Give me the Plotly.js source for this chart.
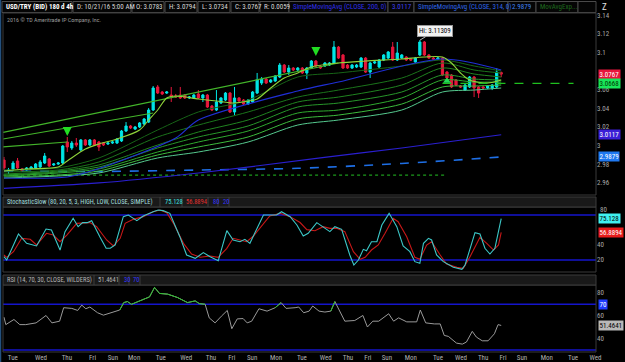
<!DOCTYPE html>
<html><head><meta charset="utf-8">
<script src="https://cdn.plot.ly/plotly-3.0.1.min.js"></script>
<style>html,body{margin:0;padding:0;background:#000;}#chart{width:625px;height:362px;}</style>
</head><body><div id="chart"></div>
<script>
// ---------------- DATA ----------------
const candleOpen = [
2.9846,2.9728,2.9750,2.9836,2.9750,2.9739,2.9750,2.9761,2.9771,2.9814,
2.9857,2.9793,2.9803,2.9814,3.0039,2.9975,3.0028,2.9954,3.0061,3.0007,
3.0061,3.0039,3.0028,3.0018,3.0028,3.0028,3.0050,3.0157,3.0211,3.0178,
3.0200,3.0232,3.0253,3.0382,3.0629,3.0575,3.0564,3.0543,3.0532,3.0543,
3.0543,3.0511,3.0511,3.0554,3.0511,3.0543,3.0425,3.0382,3.0457,3.0489,
3.0564,3.0361,3.0511,3.0489,3.0446,3.0468,3.0564,3.0671,3.0714,3.0682,
3.0693,3.0736,3.0864,3.0789,3.0832,3.0811,3.0832,3.0779,3.0832,3.0907,
3.0854,3.0854,3.0864,3.0886,3.1057,3.0972,3.0864,3.0832,3.0843,3.0843,
3.0939,3.0789,3.0886,3.0843,3.0918,3.0939,3.1057,3.0918,3.0939,3.0950,
3.0929,3.0897,3.0972,3.1111,3.0972,3.0939,3.0929,3.0939,3.0789,3.0757,
3.0704,3.0639,3.0596,3.0629,3.0736,3.0629,3.0629,3.0618,3.0618,3.0629,
3.0783];
const candleHigh = [
2.9879,2.9761,2.9836,2.9868,2.9761,2.9771,2.9782,2.9814,2.9846,2.9921,
2.9868,2.9814,2.9825,3.0007,3.0093,3.0050,3.0082,3.0071,3.0071,3.0071,
3.0071,3.0050,3.0039,3.0039,3.0050,3.0082,3.0168,3.0253,3.0221,3.0211,
3.0253,3.0296,3.0403,3.0639,3.0650,3.0586,3.0586,3.0629,3.0554,3.0629,
3.0554,3.0532,3.0554,3.0596,3.0554,3.0554,3.0436,3.0596,3.0521,3.0575,
3.0575,3.0629,3.0521,3.0500,3.0500,3.0586,3.0779,3.0736,3.0725,3.0714,
3.0757,3.0886,3.0875,3.0864,3.0843,3.0843,3.0843,3.0843,3.0918,3.0918,
3.0864,3.0897,3.0897,3.1122,3.1068,3.0982,3.0875,3.0875,3.0875,3.0950,
3.0950,3.0897,3.0907,3.0929,3.0982,3.1014,3.1111,3.1111,3.0982,3.0961,
3.0939,3.0950,3.1131,3.1122,3.0982,3.0950,3.0950,3.0950,3.0800,3.0768,
3.0714,3.0650,3.0661,3.0746,3.0746,3.0639,3.0639,3.0650,3.0661,3.0832,
3.0794];
const candleLow = [
2.9739,2.9696,2.9728,2.9739,2.9718,2.9728,2.9739,2.9750,2.9761,2.9803,
2.9771,2.9782,2.9793,2.9803,2.9932,2.9954,2.9986,2.9943,2.9996,2.9996,
2.9996,2.9943,2.9996,3.0007,3.0018,3.0018,3.0039,3.0146,3.0178,3.0168,
3.0189,3.0221,3.0243,3.0371,3.0554,3.0543,3.0554,3.0468,3.0511,3.0500,
3.0500,3.0500,3.0500,3.0500,3.0468,3.0403,3.0371,3.0371,3.0446,3.0478,
3.0350,3.0328,3.0468,3.0436,3.0436,3.0457,3.0554,3.0650,3.0661,3.0671,
3.0682,3.0725,3.0779,3.0757,3.0800,3.0800,3.0768,3.0714,3.0822,3.0843,
3.0822,3.0843,3.0854,3.0875,3.0929,3.0822,3.0822,3.0822,3.0832,3.0832,
3.0779,3.0725,3.0875,3.0832,3.0907,3.0929,3.0907,3.0907,3.0929,3.0907,
3.0907,3.0886,3.0961,3.0961,3.0929,3.0918,3.0918,3.0746,3.0714,3.0618,
3.0639,3.0618,3.0586,3.0618,3.0521,3.0511,3.0607,3.0607,3.0596,3.0618,
3.0734];
const candleClose = [
2.9761,2.9739,2.9814,2.9761,2.9728,2.9761,2.9771,2.9803,2.9825,2.9889,
2.9782,2.9803,2.9814,2.9996,2.9986,3.0028,3.0007,3.0061,3.0007,3.0061,
3.0007,2.9986,3.0007,3.0028,3.0039,3.0071,3.0157,3.0211,3.0189,3.0200,
3.0243,3.0286,3.0382,3.0618,3.0564,3.0554,3.0575,3.0521,3.0521,3.0511,
3.0511,3.0521,3.0543,3.0511,3.0543,3.0414,3.0382,3.0468,3.0511,3.0564,
3.0361,3.0511,3.0478,3.0446,3.0489,3.0575,3.0704,3.0714,3.0671,3.0704,
3.0746,3.0864,3.0789,3.0832,3.0811,3.0832,3.0779,3.0832,3.0907,3.0854,
3.0832,3.0886,3.0886,3.1057,3.0939,3.0832,3.0832,3.0864,3.0864,3.0939,
3.0789,3.0886,3.0897,3.0918,3.0972,3.1004,3.0918,3.0993,3.0972,3.0918,
3.0918,3.0939,3.1111,3.0972,3.0939,3.0929,3.0939,3.0757,3.0725,3.0629,
3.0650,3.0629,3.0650,3.0736,3.0618,3.0564,3.0618,3.0639,3.0650,3.0789,
3.0767];

// fast EMA (lime)
const fastIdx = [0,5,12,14,18,21,25,30,32,34,36,38,43,47,51,54,56,59,62,65,68,74,80,88,93,97,99,101,103,107,110];
const fastVal = [2.9728,2.9750,2.9771,2.9836,2.9964,3.0018,3.0071,3.0168,3.0275,3.0382,3.0511,3.0532,3.0500,3.0478,3.0457,3.0478,3.0500,3.0618,3.0725,3.0779,3.0843,3.0886,3.0907,3.0929,3.0950,3.0950,3.0886,3.0779,3.0704,3.0671,3.0704];
// exponential ribbon (sampled)
const ribbonIdx = [0,12,21,34,43,54,65,74,88,97,104,110];
const ema1 = [2.9739,2.9761,2.9868,3.0168,3.0361,3.0489,3.0736,3.0779,3.0854,3.0918,3.0854,3.0800];
const ema2 = [2.9718,2.9739,2.9825,3.0093,3.0221,3.0361,3.0521,3.0596,3.0725,3.0886,3.0811,3.0779];
const ema3 = [2.9696,2.9728,2.9793,3.0007,3.0146,3.0275,3.0468,3.0521,3.0650,3.0832,3.0768,3.0736];
const ema4 = [2.9685,2.9718,2.9771,2.9975,3.0093,3.0211,3.0414,3.0457,3.0575,3.0757,3.0714,3.0704];
const ema5 = [2.9675,2.9707,2.9750,2.9932,3.0039,3.0157,3.0350,3.0382,3.0511,3.0704,3.0682,3.0682];
const ema6 = [2.9664,2.9685,2.9728,2.9900,2.9986,3.0093,3.0286,3.0328,3.0446,3.0629,3.0639,3.0650];
const ema7 = [2.9653,2.9675,2.9707,2.9868,2.9932,3.0039,3.0221,3.0275,3.0382,3.0575,3.0596,3.0618];
// mid blue moving average
const midIdx = [0,14,20,38,43,65,74,97,110];
const midVal = [2.9653,2.9664,2.9739,3.0082,3.0275,3.0586,3.0682,3.0929,3.0811];
// SMA 200 / SMA 314
const smaIdx = [0,21,43,70,88,110];
const sma200 = [2.9543,2.9600,2.9707,2.9868,2.9975,3.0117];
const sma314Idx = [0,21,43,65,88,110];
const sma314 = [2.9728,2.9723,2.9739,2.9757,2.9809,2.9879];
// straight trend lines
const trendAIdx = [-0.2,74], trendAVal = [3.0142,3.0886];
const trendBIdx = [-0.2,33], trendBVal = [3.0071,3.0350];
const trendCIdx = [-0.2,14], trendCVal = [2.9986,3.0039];
// level lines
const levelLowIdx = [-0.2,98], levelLowVal = [2.9685,2.9685];
const levelHighIdx = [97,126], levelHighVal = [3.0668,3.0668];
// signals (arrow tip positions)
const sigDownIdx = [14,69], sigDownVal = [3.0103,3.0961];
const sigUpIdx = [98], sigUpVal = [3.0693];

// StochasticSlow
const stochKIdx = [0,0.6,3.2,5.0,7.2,9.3,10.5,12.4,13.5,15.3,16.4,17.4,18.4,19.4,21.2,22.6,23.5,24.6,26.4,27.5,29.4,30.8,33.0,34.1,35.2,36.7,38.9,40.4,42.3,44.1,45.6,47.4,49.3,50.7,52.2,53.3,54.4,57.4,60.3,61.4,63.3,64.8,66.2,67.3,69.2,70.6,72.1,73.2,74.7,76.5,77.4,78.4,79.5,80.2,81.3,82.5,83.6,85.2,86.9,88.3,89.8,90.9,92.0,92.8,93.9,94.6,95.7,97.2,99.4,101.3,102.0,104.2,105.3,106.4,107.5,108.6,110];
const stochK = [24.4,20,54.7,42.2,38.7,61.3,60,33.3,57.8,75.6,64.4,69.8,69.8,72.4,51.1,35.6,35.6,40,77.8,80,72.4,78.7,84.4,86.7,85.8,82.2,51.1,26.7,22.2,29.8,24.4,19.1,59.1,46.7,44.4,47.6,42.2,80,80,84.4,77.8,66.7,52,55.6,69.8,64.4,57.8,64.4,60.9,26.7,13.3,20,34.2,32.4,44.4,44.4,66.7,82.2,64.4,38.7,31.1,17.8,15.6,42.2,48.9,46.7,26.7,17.8,10.2,7.6,13.3,56.4,54.7,35.6,28,35.6,75.128];
const stochDIdx = [0,0.6,2.1,3.9,5.8,7.2,9.4,10.9,12.4,13.9,16.1,17.5,19.0,20.5,22.7,24.2,25.7,26.8,28.6,30.8,33.0,34.5,36.0,37.5,39.7,41.5,43.4,45.6,47.4,49.3,50.7,52.2,53.7,55.2,57.4,58.8,61.1,63.3,65.5,67.0,68.8,70.6,72.1,73.6,75.4,77.3,78.8,79.9,81.3,82.8,84.3,86.1,87.2,89.1,90.9,92.0,93.5,94.6,96.5,97.9,100.2,101.6,103.1,105.3,106.8,108.3,109.4,110];
const stochD = [26.7,23.6,31.1,48.9,47.6,40,55.6,53.3,44.4,53.3,68.9,68.9,69.8,64.4,46.7,38.7,48.9,68.9,74.2,77.8,84.4,86.7,83.1,68.9,42.2,28,23.6,25.3,23.6,35.6,48.9,46.7,44.4,52,68.9,78.7,82.2,77.8,70,60.5,59.1,64.4,62.2,62.2,57.8,31.1,20.9,23.6,33.3,40,55.6,75.6,71.1,51.1,23.6,20.9,40,44.4,26.7,14.7,10.2,8.9,24.4,50.2,42.2,33.3,40,56.8894];

// RSI
const rsiIdx = [0,0.4,2.2,3.5,4.8,7.1,9.3,10.6,12.3,13.2,15.0,16.3,17.2,18.1,19.0,20.7,22.0,24.2,25.6,26.5,27.3,28.2,30.9,32.2,33.3,34.4,36.2,38.4,40.6,42.3,43.2,44.5,45.4,46.7,48.1,49.4,50.4,51.6,52.9,53.8,54.8,56.4,58.2,60.0,61.3,62.4,64.4,65.2,66.3,67.5,68.3,69.7,71.0,72.3,73.2,75.4,77.6,79.4,80.4,81.6,82.9,85.1,86.2,87.3,89.1,91.3,92.1,93.3,95.2,96.5,97.4,98.3,100.1,101.4,102.3,103.6,104.5,105.8,107.1,108.5,109.3,110];
const rsiVal = [58.7,52.2,56.7,52.2,52.2,53.7,60.2,53.7,55.2,67,66.4,64.6,69.3,66.1,67.6,62.6,60.5,63.2,65,71.5,72.4,70,74.4,76.5,84.8,79.5,78.9,75.9,71.5,73,70.6,70,58.1,53.7,59.6,64.6,48.6,57.2,57.5,53.7,55.2,66.1,64,67,71.5,66.4,67,67.6,62.6,64,68.5,64,63.2,64,72.4,55.2,55.8,60.2,50.1,55.2,55.2,61.7,55.2,58.1,54.6,54.6,65,53.7,52.8,52.8,42.7,41.9,36,35.1,36.9,46.3,41.3,38,38,44.2,52.2,51.4641];

// axis labels
const dayTickIdx = [1.95,8.19,13.9,19.6,24.1,28.8,34.7,40.3,45.8,50.4,54.9,60.2,65.9,71.2,76.1,80.5,84.7,90.0,96.0,101.1,106.0,110.4,114.6,120.1,125.9,130.85];
const dayNames = ['Tue','Wed','Thu','Fri','Sun','Mon','Tue','Wed','Thu','Fri','Sun','Mon','Tue','Wed','Thu','Fri','Sun','Mon','Tue','Wed','Thu','Fri','Sun','Mon','Tue','Wed'];
const priceTicks = [2.96,2.98,3.00,3.02,3.04,3.06,3.10,3.12,3.14];
const priceTickText = ['2.96','2.98','3','3.02','3.04','3.06','3.1','3.12','3.14'];
const stochTicks = [20,40];
const rsiTicks = [40,60,80];

// ---------------- RENDER ----------------
const F = "'Liberation Sans Narrow','Roboto Condensed',Roboto,sans-serif";
const X0 = 3, X1 = 596, PH = 352;
const xp = px => (px - X0) / (X1 - X0);
const yp = py => (PH - py) / PH;
const barIdx = candleOpen.map((_, i) => i);

function line(x, y, color, width, dash, shape) {
  return {type:'scatter', mode:'lines', x, y, xaxis:'x', yaxis:'y', hoverinfo:'skip',
          line:{color, width, dash: dash || 'solid', shape: shape || 'spline', smoothing:0.8}};
}
const traces = [
  line(levelLowIdx, levelLowVal, '#1c9a1c', 1.3, 'dot', 'linear'),
  line(sma314Idx, sma314, '#1e6fe6', 1.6, 'dash'),
  line(smaIdx, sma200, '#2a1fd0', 1.2),
  line(ribbonIdx, ema7, '#55c98e', 1),
  line(ribbonIdx, ema6, '#3dbb3d', 1),
  line(ribbonIdx, ema5, '#2faa2f', 1),
  line(ribbonIdx, ema4, '#27962a', 1),
  line(ribbonIdx, ema3, '#208420', 1),
  line(ribbonIdx, ema2, '#1b741b', 1),
  line(ribbonIdx, ema1, '#176417', 1),
  line(midIdx, midVal, '#1f2fd6', 1.2),
  line(trendAIdx, trendAVal, '#43b52a', 1.2, 'solid', 'linear'),
  line(trendBIdx, trendBVal, '#43b52a', 1.2, 'solid', 'linear'),
  line(trendCIdx, trendCVal, '#43b52a', 1.2, 'solid', 'linear'),
  line(fastIdx, fastVal, '#8fd43a', 1.1),
  {type:'candlestick', x:barIdx, open:candleOpen, high:candleHigh, low:candleLow, close:candleClose,
   xaxis:'x', yaxis:'y', hoverinfo:'skip', whiskerwidth:0,
   increasing:{line:{color:'#00e6e6', width:1}, fillcolor:'#00e6e6'},
   decreasing:{line:{color:'#e8173c', width:1}, fillcolor:'#e8173c'}},
  line(levelHighIdx, levelHighVal, '#1fc01f', 1.3, 'dash', 'linear'),
  {type:'scatter', mode:'markers', x:sigUpIdx, y:sigUpVal, xaxis:'x', yaxis:'y', hoverinfo:'skip',
   marker:{symbol:'triangle-up', size:7, color:'#22dd55'}},
  {type:'scatter', mode:'lines', x:stochDIdx, y:stochD, xaxis:'x2', yaxis:'y2', hoverinfo:'skip',
   line:{color:'#c81818', width:1.1}},
  {type:'scatter', mode:'lines', x:stochKIdx, y:stochK, xaxis:'x2', yaxis:'y2', hoverinfo:'skip',
   line:{color:'#3cc8c8', width:1.1}},
  {type:'scatter', mode:'lines', x:rsiIdx, y:rsiVal, xaxis:'x3', yaxis:'y3', hoverinfo:'skip',
   line:{color:'#9a9a9a', width:1}},
  {type:'scatter', mode:'lines', x:rsiIdx,
   y:rsiVal.map((v, i) => (v >= 69.5 || (rsiVal[i+1] !== undefined && rsiVal[i+1] >= 69.5)) ? v : null),
   connectgaps:false, xaxis:'x3', yaxis:'y3', hoverinfo:'skip', line:{color:'#2ec02e', width:1}}
];

const shapes = [];
const annotations = [];
const rectPx = (x0, y0, x1, y1, fill, lc) => shapes.push({type:'rect', xref:'paper', yref:'paper',
  x0:xp(x0), x1:xp(x1), y0:yp(y1), y1:yp(y0), fillcolor:fill || 'rgba(0,0,0,0)', line:{color:lc || '#3a3a3a', width:1}, layer:'above'});
const vlinePx = (x, y0, y1, c) => shapes.push({type:'line', xref:'paper', yref:'paper', x0:xp(x), x1:xp(x), y0:yp(y1), y1:yp(y0), line:{color:c || '#3c3c3c', width:1}, layer:'above'});
const textPx = (x, y, t, c, size, extra) => annotations.push(Object.assign({xref:'paper', yref:'paper', x:xp(x), y:yp(y),
  xanchor:'left', yanchor:'middle', text:t, showarrow:false, font:{family:F, size:size || 7, color:c}}, extra || {}));

// header row
const hdr = [
  [2,72,'<b>USD/TRY (BID) 180 d 4h</b>','#ffffff'],
  [73,131,'D: 10/21/16 5:00 AM','#d8d8d8'],
  [132,164,'O: 3.0783','#d8d8d8'],
  [165,197,'H: 3.0794','#d8d8d8'],
  [198,230,'L: 3.0734','#d8d8d8'],
  [231,259,'C: 3.0767','#d8d8d8'],
  [260,289,'R: 0.0059','#d8d8d8'],
  [289,388,'SimpleMovingAvg (CLOSE, 200, 0)','#2f2fe8'],
  [388,414,'3.0117','#4040f0'],
  [414,508,'SimpleMovingAvg (CLOSE, 314, 0)','#2f66e8'],
  [508,536,'2.9879','#3f80f0'],
  [536,578,'MovAvgExp...','#1e6a1e'],
  [578,596,'','#fff']
];
hdr.forEach(h => { rectPx(h[0], 1.5, h[1], 12.5, '#050505', '#4a4a4a'); if (h[2]) textPx(h[0] + 2, 7, h[2], h[3], 7); });
textPx(600, 7, 'Z', '#e0e0e0', 9);
textPx(5, 19.5, '2016 © TD Ameritrade IP Company, Inc.', '#9a9a9a', 6);

// panel frames
shapes.push({type:'line', xref:'paper', yref:'paper', x0:xp(0.5), x1:xp(0.5), y0:yp(362), y1:yp(0), line:{color:'#23507e', width:1.5}});
rectPx(X0, 13, X1, 195);
rectPx(X0, 207, X1, 272);
rectPx(X0, 285, X1, 352);
// stochastic header
rectPx(X0, 197, X1, 207, '#191919', '#3c3c3c');
[160,182,208,218,229].forEach(x => vlinePx(x, 197, 207));
textPx(5, 202, 'StochasticSlow (80, 20, 5, 3, HIGH, LOW, CLOSE, SIMPLE)', '#a2dede', 6.5);
textPx(163, 202, '75.128', '#3fe0e0', 6.5);
textPx(184, 202, '56.8894', '#e03030', 6.5);
textPx(210.5, 202, '80', '#3535ff', 6.5);
textPx(220.5, 202, '20', '#3535ff', 6.5);
// RSI header
rectPx(X0, 275, X1, 285, '#191919', '#3c3c3c');
[94,119,129,140].forEach(x => vlinePx(x, 275, 285));
textPx(5, 280, 'RSI (14, 70, 30, CLOSE, WILDERS)', '#b4b4b4', 6.5);
textPx(96, 280, '51.4641', '#b4b4b4', 6.5);
textPx(121.5, 280, '30', '#3535ff', 6.5);
textPx(131, 280, '70', '#3535ff', 6.5);
// stochastic "80" axis label (sits just above its value box)
textPx(598, 209.5, '80', '#a8a8a8', 7);

// reference levels
[[80,'y2'],[20,'y2'],[70,'y3'],[30,'y3']].forEach(l => shapes.push({type:'line', xref:'paper', yref:l[1],
  x0:0, x1:1, y0:l[0], y1:l[0], line:{color:'#1414cc', width:1.5}, layer:'below'}));

// value boxes on right axis
const box = (yref, v, t, bg, fc) => annotations.push({xref:'paper', yref, x:xp(598), y:v, xanchor:'left', yanchor:'middle',
  text:t, showarrow:false, bgcolor:bg, borderpad:0.5, font:{family:F, size:7, color:fc}});
box('y', 3.0767, '3.0767', '#e8173c', '#ffffff');
box('y', 3.0668, '3.0668', '#19e65a', '#003300');
box('y', 3.0117, '3.0117', '#3b1fd6', '#ffffff');
box('y', 2.9879, '2.9879', '#1f78f0', '#ffffff');
box('y2', 75.128, '75.128', '#40f0f0', '#000000');
box('y2', 56.8894, '56.8894', '#e81c1c', '#ffffff');
box('y3', 70, '70', '#1f3cff', '#ffffff');
box('y3', 51.4641, '51.4641', '#b8b8b8', '#000000');

// down-arrow signals
sigDownIdx.forEach((x, k) => annotations.push({xref:'x', yref:'y', x, y:sigDownVal[k], text:'', showarrow:true,
  arrowhead:2, arrowsize:0.9, arrowwidth:2, arrowcolor:'#22dd22', ax:0, ay:-9}));

// Hi callout
annotations.push({xref:'x', yref:'y', x:92, y:3.11309, text:'Hi: 3.11309', showarrow:true, arrowhead:0,
  arrowcolor:'#bbbbbb', arrowwidth:1, ax:15, ay:-9, bgcolor:'#f2f2f2', bordercolor:'#999', borderpad:1,
  font:{family:F, size:7, color:'#000'}});

const xBase = {range:[-0.221, 130.97], showgrid:false, zeroline:false, showline:false, ticks:'', fixedrange:true};
const yBase = {side:'right', showgrid:false, zeroline:false, showline:false, ticks:'', fixedrange:true,
  tickfont:{family:F, size:7, color:'#a8a8a8'}, tickmode:'array'};
const layout = {
  width:625, height:362, margin:{l:3, r:29, t:0, b:10}, paper_bgcolor:'#000', plot_bgcolor:'#000',
  showlegend:false, dragmode:false,
  xaxis:Object.assign({}, xBase, {domain:[0,1], anchor:'y', showticklabels:false, rangeslider:{visible:false}}),
  xaxis2:Object.assign({}, xBase, {domain:[0,1], anchor:'y2', showticklabels:false, matches:'x'}),
  xaxis3:Object.assign({}, xBase, {domain:[0,1], anchor:'y3', matches:'x', tickmode:'array', tickvals:dayTickIdx,
    ticktext:dayNames, tickfont:{family:F, size:7, color:'#b0b0b0'}}),
  yaxis:Object.assign({}, yBase, {domain:[yp(195), yp(13)], range:[2.9471, 3.1422], tickvals:priceTicks, ticktext:priceTickText}),
  yaxis2:Object.assign({}, yBase, {domain:[yp(272), yp(207)], range:[4.0, 90.67], tickvals:stochTicks}),
  yaxis3:Object.assign({}, yBase, {domain:[yp(352), yp(285)], range:[28.2, 86.9], tickvals:rsiTicks}),
  shapes, annotations
};
Plotly.newPlot('chart', traces, layout, {staticPlot:true, displayModeBar:false});
</script>
</body></html>
